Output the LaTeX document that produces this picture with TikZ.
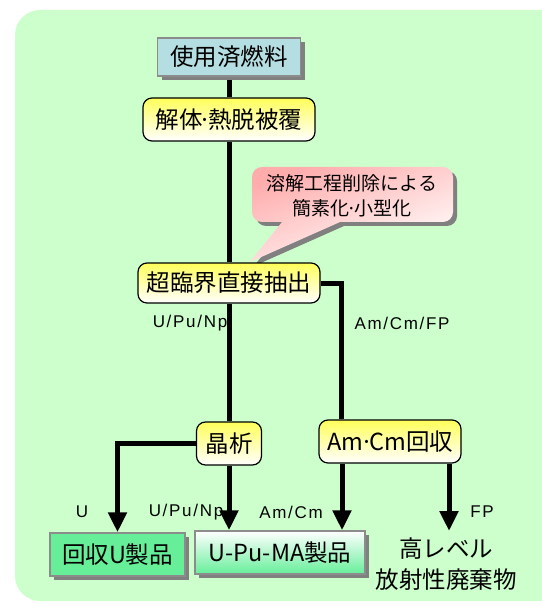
\documentclass[tikz,border=0pt]{standalone}
\usepackage{fontspec}
\setmainfont{Noto Sans CJK JP}
\newfontfamily\labfont[LetterSpace=10]{Liberation Sans}
\usetikzlibrary{arrows.meta,shadows}
\definecolor{bggreen}{RGB}{204,255,204}
\definecolor{boxblue}{RGB}{180,222,226}
\definecolor{mint}{RGB}{102,238,153}
\definecolor{yel}{RGB}{255,255,90}
\definecolor{pinkc}{RGB}{255,172,172}
\definecolor{shadowgray}{RGB}{128,128,128}
\definecolor{bordergray}{RGB}{140,140,140}
\newcommand{\ndot}{\kern-4pt·\kern-4pt}
\pgfdeclarelayer{back}
\pgfdeclarelayer{conn}
\pgfsetlayers{back,conn,main}
\begin{document}
\begin{tikzpicture}[x=1pt,y=-1pt,
  bigtxt/.style={font=\fontsize{23.5}{31}\selectfont},
  proc/.style={bigtxt, draw=black, line width=1.2pt, rounded corners=9pt,
    top color=yel, bottom color=white, inner sep=0pt},
  sqbox/.style={bigtxt, draw=bordergray, line width=1.5pt, inner sep=0pt,
    drop shadow={shadow xshift=4pt, shadow yshift=-4pt, fill=shadowgray, opacity=1}},
  lab/.style={font=\labfont\fontsize{17}{20}\selectfont, inner sep=0pt},
  flow/.style={line width=5pt, draw=black},
  arr/.style={flow, -{Triangle[width=18pt,length=20pt]}}
]
\useasboundingbox (0,0) rectangle (541,609);
\clip (0,0) rectangle (541,609);
\begin{pgfonlayer}{back}
\fill[bggreen, rounded corners=25pt] (15,10) rectangle (600,601);
% callout shadow
\fill[shadowgray] ([shift={(4pt,-4pt)}]252,167)
  [rounded corners=10pt] -- ([shift={(4pt,-4pt)}]453,167) -- ([shift={(4pt,-4pt)}]453,222)
  [sharp corners] -- ([shift={(4pt,-4pt)}]340,222) -- ([shift={(4pt,-4pt)}]250,262) -- ([shift={(4pt,-4pt)}]282,222)
  [rounded corners=10pt] -- ([shift={(4pt,-4pt)}]252,222) -- cycle;
\shade[top color=pinkc, bottom color=white, shading angle=20]
  (252,180) [rounded corners=10pt] -- (252,167) -- (453,167) -- (453,222)
  [sharp corners] -- (340,222) -- (250,262) -- (282,222)
  [rounded corners=10pt] -- (252,222) -- (252,180);
\end{pgfonlayer}

\node[font=\fontsize{19}{25}\selectfont, align=center, inner sep=0pt] (note) at (352,196) {溶解工程削除による\\簡素化\kern-3pt·\kern-3pt小型化};

\node[sqbox, fill=boxblue, minimum width=143pt, minimum height=38pt] (spent) at (229,57) {使用済燃料};
\node[proc, minimum width=172pt, minimum height=43pt] (dis) at (229,119.5) {解体\ndot 熱脱被覆};
\node[proc, minimum width=182pt, minimum height=40pt] (sc) at (229,283) {超臨界直接抽出};
\node[proc, minimum width=65pt, minimum height=43pt] (cry) at (229,443.5) {晶析};
\node[proc, minimum width=142pt, minimum height=43pt] (amcm) at (390,441.5) {Am\kern-3pt·\kern-4pt Cm回収};
\node[sqbox, fill=mint, minimum width=135pt, minimum height=43pt] (ru) at (117.5,554.5) {回収U製品};
\node[sqbox, top color=white, bottom color=mint, minimum width=170pt, minimum height=43pt] (upm) at (280,552.5) {U-Pu-MA製品};
\node[bigtxt, align=center, inner sep=0pt] (hlw) at (446,564) {高レベル\\放射性廃棄物};
\coordinate (fpend) at (449,531);

\node[lab] (l1) at (190,323) {U/Pu/Np};
\node[lab] (l2) at (402,323) {Am/Cm/FP};
\node[lab] (l3) at (82,512) {U};
\node[lab] (l4) at (186,512) {U/Pu/Np};
\node[lab] (l5) at (291,512) {Am/Cm};
\node[lab] (l6) at (482,512) {FP};

\begin{pgfonlayer}{conn}
\draw[flow] (spent) -- (dis);
\draw[flow] (dis) -- (sc);
\draw[flow] (sc) -- (cry);
\draw[flow] (sc.east) -| ([xshift=-49pt]amcm.north);
\draw[arr] (cry.west) -| (ru.north);
\draw[arr] (cry.south) -- (cry.south |- upm.north);
\draw[arr] ([xshift=-48pt]amcm.south) -- ([xshift=-48pt]amcm.south |- upm.north);
\draw[arr] ([xshift=59pt]amcm.south) -- (fpend);
\end{pgfonlayer}
\end{tikzpicture}
\end{document}
